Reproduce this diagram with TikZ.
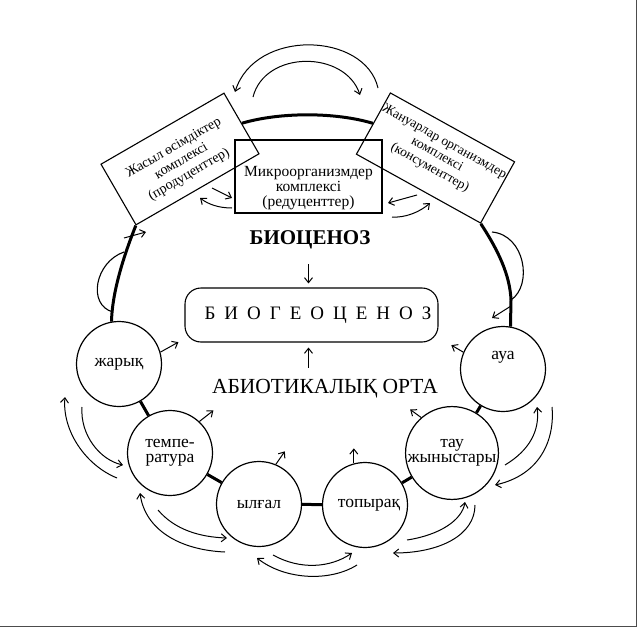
\documentclass[tikz,border=0pt]{standalone}
\usepackage{fontspec}
\setmainfont{Liberation Serif}
\usetikzlibrary{arrows.meta,calc}
\newcommand{\lsp}{\hspace{9pt}}
\begin{document}
\begin{tikzpicture}[x=1pt,y=-1pt,
  ln/.style={line width=1.1pt},
  thickln/.style={line width=3pt},
  circ/.style={circle,draw,line width=1.2pt,minimum size=85pt,inner sep=0pt,align=center,font=\fontsize{17.5}{15}\selectfont},
  rotbox/.style={draw,line width=1.1pt,minimum width=142pt,minimum height=70pt,inner sep=0pt},
  arr/.style={line width=1pt,-{Straight Barb[length=5pt,width=8pt]}},
  txt/.style={align=center,inner sep=0pt},
  frame/.style={line width=0.6pt,black!70}
]
\useasboundingbox (0,0) rectangle (640,629);
% frame
\draw[frame] (636,0) -- (636,626) -- (0,626);
% top boxes
\node[rotbox,rotate=30] (lbox) at (180,159) {};
\node[txt,rotate=30,font=\fontsize{14}{15.5}\selectfont] (ltext) at (181.5,161.6) {Жасыл өсімдіктер\\комплексі\\(продуценттер)};
\node[rotbox,rotate=-29] (rbox) at (435.5,158) {};
\node[txt,rotate=-29,font=\fontsize{13.5}{15}\selectfont] (rtext) at (437,155) {Жануарлар организмдер\\комплексі\\(консументтер)};
\node[draw,ln,minimum width=147pt,minimum height=73pt,inner sep=0pt] (mbox) at (308.5,176.5) {};
\node[txt,font=\fontsize{15.5}{15}\selectfont] (mtext) at (308.5,188) {Микроорганизмдер\\комплексі\\(редуценттер)};
% top arcs
\draw[thickln] (lbox.east) .. controls (280,112) and (335,112) .. (rbox.west);
\draw[arr] (378,88) .. controls (365,32) and (255,28) .. (235,92);
\draw[arr] (253,97) .. controls (265,50) and (345,50) .. (360,95);
% arrows between boxes
\draw[arr] (212,188) -- (232,198);
\draw[arr] (232,208) .. controls (218,208) and (208,204) .. (200,198);
\draw[arr] (417,195) -- (388,203);
\draw[arr] (392,217) .. controls (405,218) and (420,212) .. (430,203);
% circles
\node[circ] (jar) at (119,364) {жарық};
\node[circ] (temp) at (170,453) {темпе-\\ратура};
\node[circ] (ylg) at (259,504) {ылғал};
\node[circ] (top) at (365,505) {\hspace{8pt}топырақ};
\node[circ] (tau) at (452,453) {тау\\жыныстары};
\node[circ] (aua) at (503,369) {};
\node[txt,font=\fontsize{17.5}{15}\selectfont] (auat) at (503,357) {ауа};
% ring
\draw[thickln] (jar) -- (temp);
\draw[thickln] (temp) -- (ylg);
\draw[thickln] (ylg) -- (top);
\draw[thickln] (top) -- (tau);
\draw[thickln] (tau) -- (aua);
\draw[thickln] (lbox.south west) .. controls (122,260) and (112,295) .. (jar.100);
\draw[ln] (124,252) .. controls (95,262) and (87,305) .. (113,312);
\draw[thickln] (rbox.south east) .. controls (498,250) and (510,275) .. (511,300) -- (aua.80);
\draw[ln] (492,232) .. controls (525,235) and (533,285) .. (511,300);
\draw[arr] (124,238) -- (146,232);
\draw[arr] (511,306) -- (492,318);
% arrows from circles
\draw[arr] (jar.16) -- ++(18,-10);
\draw[arr] (temp.47) -- ++(14,-11);
\draw[arr] (ylg.67) -- ++(9,-13);
\draw[arr] (top.105) -- ++(0,-15);
\draw[arr] (tau.131) -- ++(-11,-8);
\draw[arr] (aua.157) -- ++(-12,-7);
% centre
\node[txt,font=\bfseries\fontsize{21}{21}\selectfont] (bioc) at (310,240) {БИОЦЕНОЗ};
\node[draw,ln,rounded corners=16pt,minimum width=253pt,minimum height=54pt,inner sep=0pt] (bgc) at (311.5,315) {};
\node[txt,font=\fontsize{19}{19}\selectfont] (bgct) at (318,315) {Б\lsp И\lsp О\lsp Г\lsp Е\lsp О\lsp Ц\lsp Е\lsp Н\lsp О\lsp З};
\node[txt,font=\fontsize{21.5}{21}\selectfont] (abio) at (325,389) {АБИОТИКАЛЫҚ ОРТА};
\draw[arr] ($(bgc.north)+(-3,-23)$) -- ($(bgc.north)+(-3,-4)$);
\draw[arr] ($(bgc.south)+(-3,25)$) -- ($(bgc.south)+(-3,5)$);
% outer double arrows
\draw[arr] (117,478) .. controls (85,465) and (62,430) .. (65,397);
\draw[arr] (82,407) .. controls (80,435) and (100,460) .. (123,465);
\draw[arr] (158,510) .. controls (175,530) and (200,537) .. (227,538);
\draw[arr] (225,552) .. controls (180,550) and (145,530) .. (140,493);
\draw[arr] (273,555) .. controls (300,570) and (330,568) .. (352,553);
\draw[arr] (357,565) .. controls (330,582) and (285,580) .. (257,558);
\draw[arr] (407,540) .. controls (440,535) and (462,520) .. (465,502);
\draw[arr] (475,505) .. controls (475,535) and (440,553) .. (393,553);
\draw[arr] (505,465) .. controls (530,450) and (540,430) .. (537,407);
\draw[arr] (552,407) .. controls (555,440) and (540,475) .. (495,485);
\end{tikzpicture}
\end{document}
